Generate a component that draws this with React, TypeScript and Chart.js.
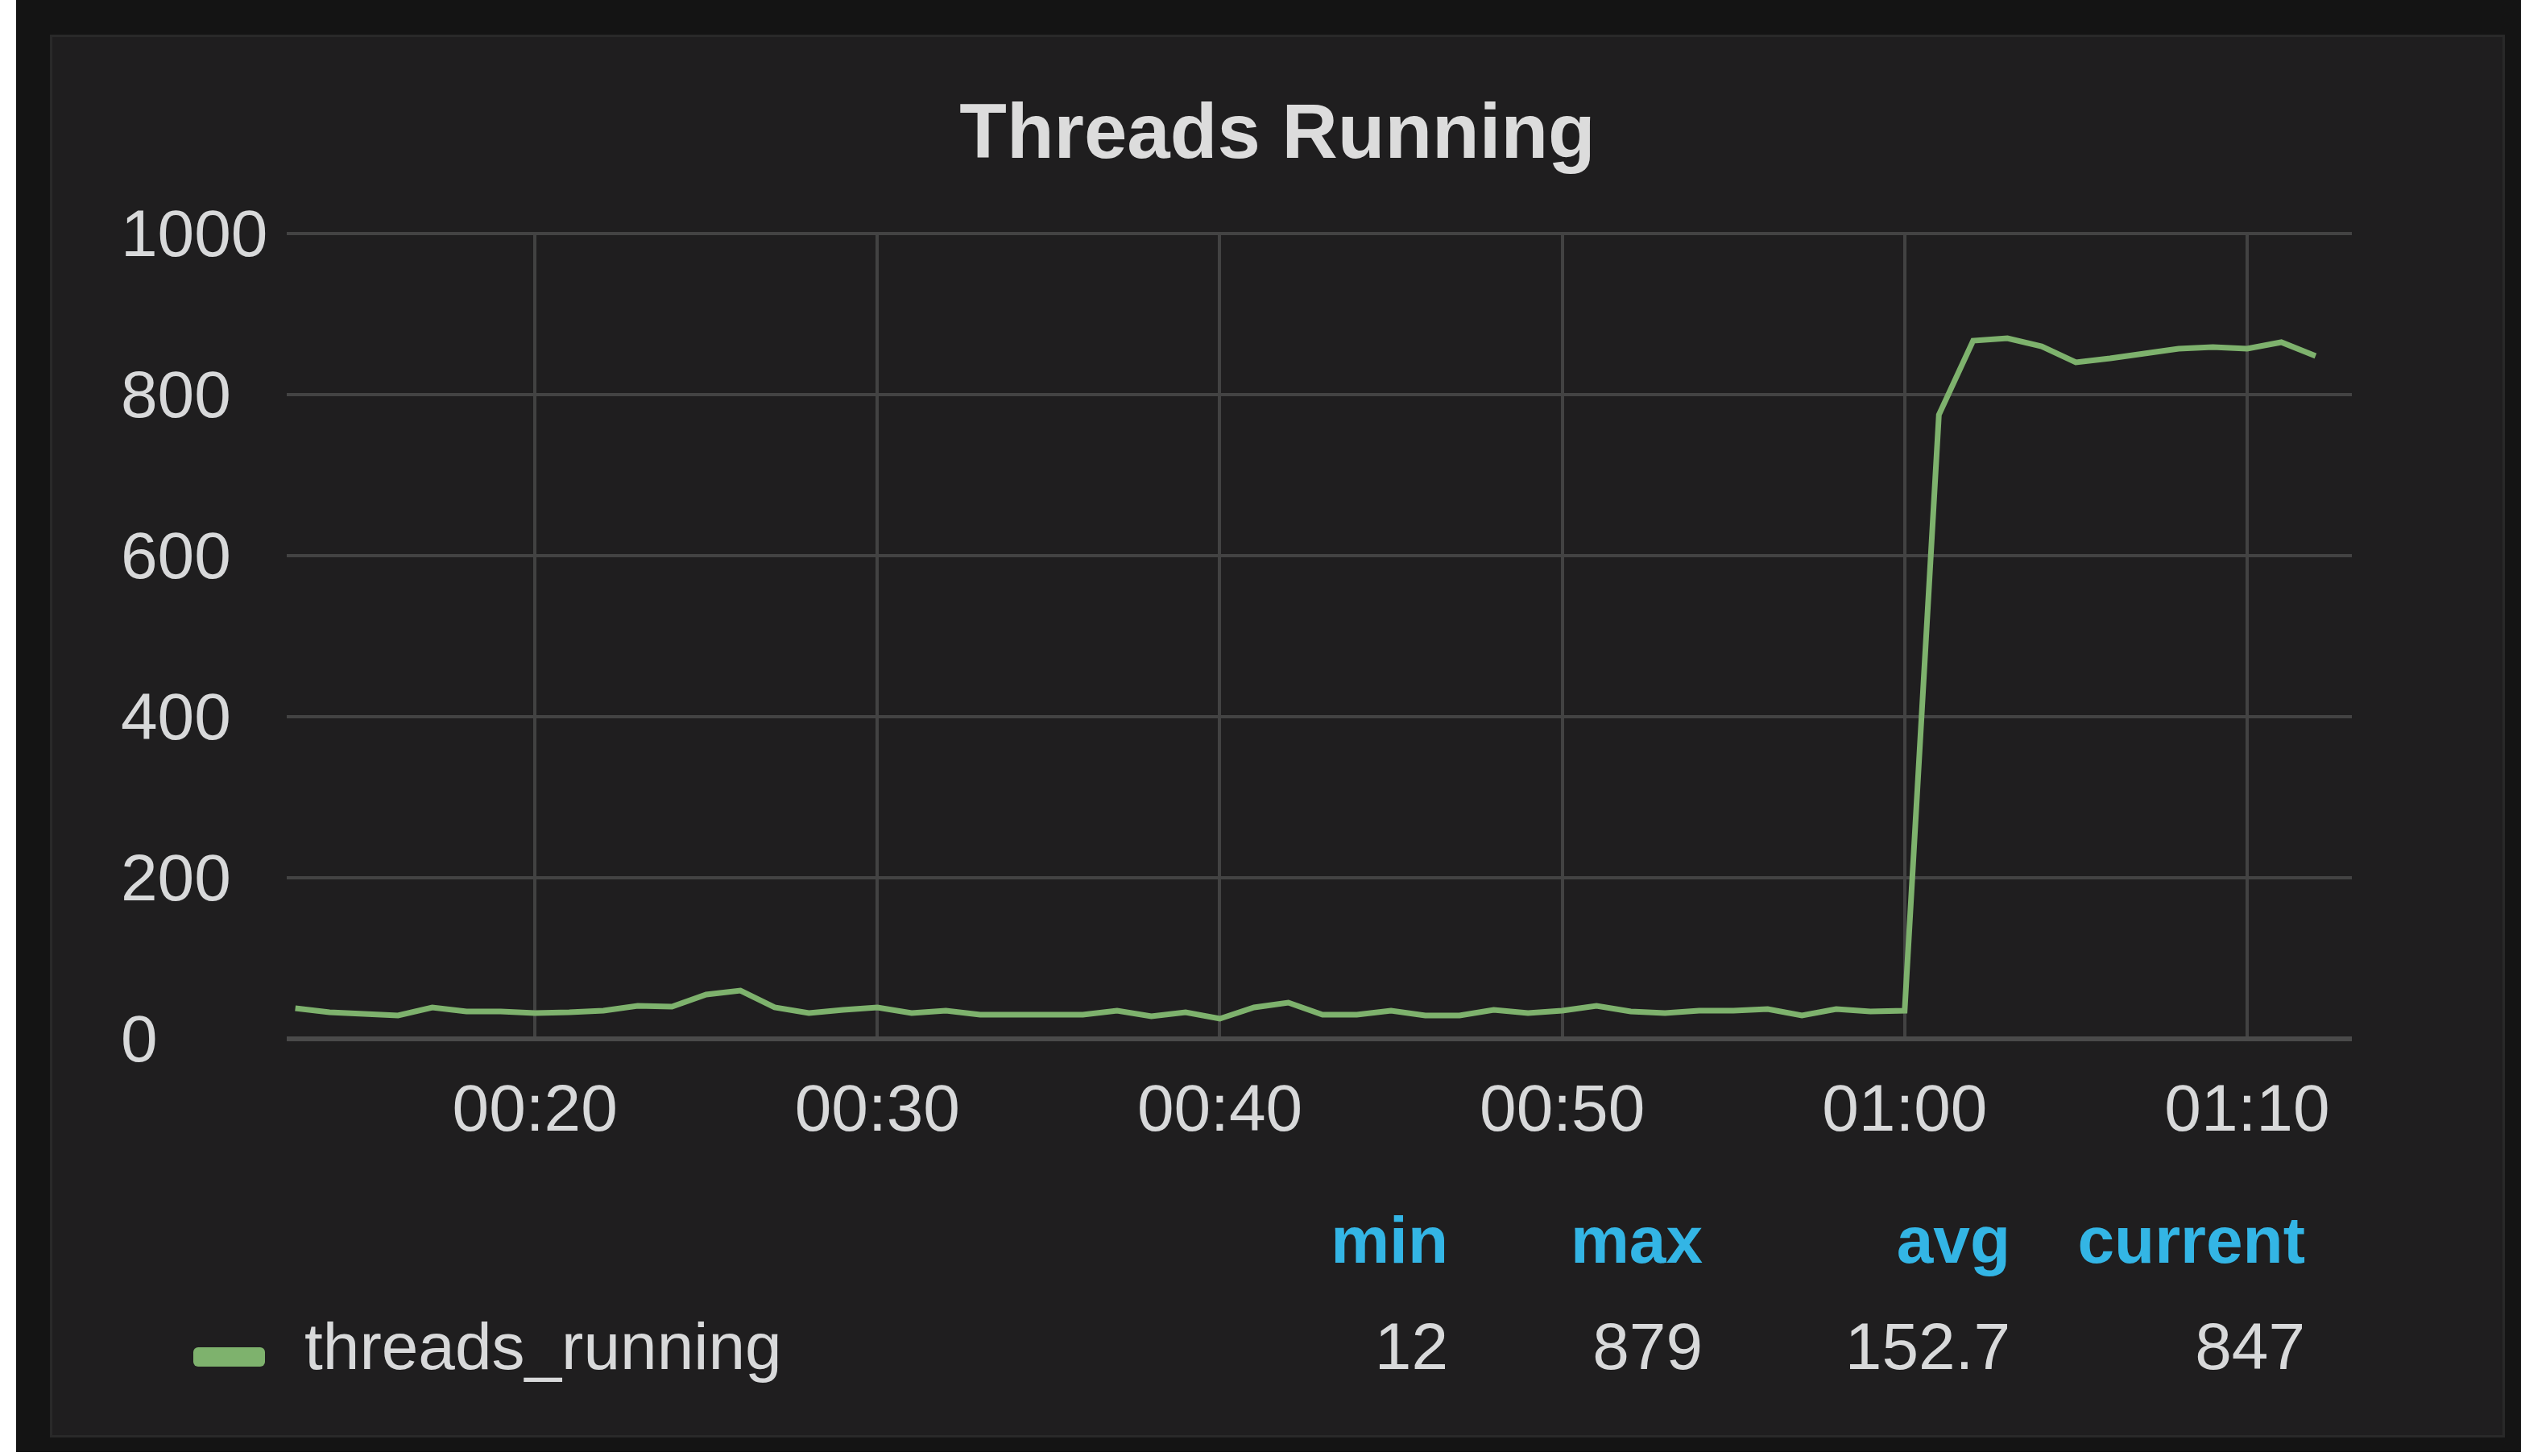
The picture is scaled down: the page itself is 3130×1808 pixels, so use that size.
import React, { useEffect, useRef } from "react";
import { Chart, registerables } from "chart.js";

Chart.register(...registerables);

// ---- data ----
const TITLE = "Threads Running";
const SERIES_NAME = "threads_running";
const START_MINUTE = 13; // first sample at 00:13, one sample per minute
const threadsRunning = [
  38, 33, 31, 29, 39, 34, 34, 32, 33, 35, 41, 40,
  55, 60, 39, 32, 36, 39, 32, 35, 30, 30, 30, 30,
  35, 28, 33, 25, 39, 45, 30, 30, 35, 29, 29, 36,
  32, 35, 41, 34, 32, 35, 35, 37, 29, 37, 34, 35,
  775, 867, 870, 860, 840, 845, 851, 857, 859, 857, 865, 848,
];
const X_TICKS = [20, 30, 40, 50, 60, 70]; // minutes
const Y_TICKS = [0, 200, 400, 600, 800, 1000];
const STAT_HEADERS = ["min", "max", "avg", "current"];
const STAT_VALUES = ["12", "879", "152.7", "847"];

// ---- style ----
const FONT = "'Liberation Sans', Arial, Helvetica, sans-serif";
const TEXT = "#d8d9da";
const GREEN = "#7eb26d";
const BLUE = "#33b5e5";
const STAT_RIGHT = [1798, 2114, 2496, 2862];

function fmtMinute(v: number): string {
  const h = Math.floor(v / 60);
  const m = Math.round(v - h * 60);
  return String(h).padStart(2, "0") + ":" + String(m).padStart(2, "0");
}

export default function App() {
  const ref = useRef<HTMLCanvasElement | null>(null);

  useEffect(() => {
    if (!ref.current) return;
    const chart = new Chart(ref.current, {
      type: "line",
      data: {
        datasets: [
          {
            label: SERIES_NAME,
            data: threadsRunning.map((v, i) => ({ x: START_MINUTE + i, y: v })),
            borderColor: GREEN,
            backgroundColor: GREEN,
            borderWidth: 7,
            pointRadius: 0,
            tension: 0,
            fill: false,
          },
        ],
      },
      options: {
        animation: false,
        responsive: false,
        maintainAspectRatio: false,
        devicePixelRatio: 1,
        layout: { padding: { left: 150, right: 210, top: 290, bottom: 0 } },
        plugins: {
          legend: { display: false },
          title: { display: false },
          tooltip: { enabled: false },
        },
        scales: {
          x: {
            type: "linear",
            min: 12.75,
            max: 73.06,
            afterBuildTicks: (s: any) => {
              s.ticks = X_TICKS.map((v) => ({ value: v }));
            },
            afterFit: (s: any) => {
              s.height = 190;
            },
            grid: { color: "#424242", lineWidth: 4, drawTicks: false },
            border: { display: false },
            ticks: {
              padding: 42,
              autoSkip: false,
              maxRotation: 0,
              color: TEXT,
              font: { family: FONT, size: 82 },
              callback: (v: any) => fmtMinute(Number(v)),
            },
          },
          y: {
            min: 0,
            max: 1000,
            afterBuildTicks: (s: any) => {
              s.ticks = Y_TICKS.map((v) => ({ value: v }));
            },
            afterFit: (s: any) => {
              s.width = 206;
            },
            grid: {
              color: (ctx: any) => (ctx.tick && ctx.tick.value === 0 ? "#4a4a4a" : "#434343"),
              lineWidth: (ctx: any) => (ctx.tick && ctx.tick.value === 0 ? 6 : 4),
              drawTicks: false,
            },
            border: { display: false },
            ticks: {
              crossAlign: "far",
              padding: 0,
              labelOffset: 5,
              color: TEXT,
              font: { family: FONT, size: 82 },
              callback: (v: any) => String(v),
            },
          },
        },
      },
    } as any);
    return () => chart.destroy();
  }, []);

  const abs = (s: React.CSSProperties): React.CSSProperties => ({ position: "absolute", ...s });
  const textBase: React.CSSProperties = {
    fontFamily: FONT,
    fontSize: 82,
    lineHeight: "82px",
    whiteSpace: "nowrap",
  };

  return (
    <div style={abs({ left: 0, top: 0, width: 3130, height: 1808, background: "#ffffff", overflow: "hidden" })}>
      <div style={abs({ left: 20, top: 0, width: 3110, height: 1803, background: "#141414" })} />
      <div
        style={abs({
          left: 62,
          top: 43,
          width: 3048,
          height: 1742,
          background: "#1f1e1f",
          boxSizing: "border-box",
          border: "3px solid #292929",
        })}
      />
      <div
        style={abs({
          left: 62,
          top: 115,
          width: 3048,
          textAlign: "center",
          fontFamily: FONT,
          fontWeight: "bold",
          fontSize: 96,
          lineHeight: "96px",
          color: "#dcdcdc",
          whiteSpace: "nowrap",
        })}
      >
        {TITLE}
      </div>
      <canvas ref={ref} width={3130} height={1480} style={abs({ left: 0, top: 0, width: 3130, height: 1480 })} />
      {STAT_HEADERS.map((h, i) => (
        <div
          key={"h" + h}
          style={abs({ ...textBase, left: 0, width: STAT_RIGHT[i], top: 1499, textAlign: "right", color: BLUE, fontWeight: "bold" })}
        >
          {h}
        </div>
      ))}
      <div style={abs({ left: 240, top: 1673, width: 89, height: 24, borderRadius: 6, background: GREEN })} />
      <div style={abs({ ...textBase, left: 378, top: 1631, color: TEXT })}>{SERIES_NAME}</div>
      {STAT_VALUES.map((v, i) => (
        <div
          key={"v" + i}
          style={abs({ ...textBase, left: 0, width: STAT_RIGHT[i], top: 1631, textAlign: "right", color: TEXT })}
        >
          {v}
        </div>
      ))}
    </div>
  );
}
